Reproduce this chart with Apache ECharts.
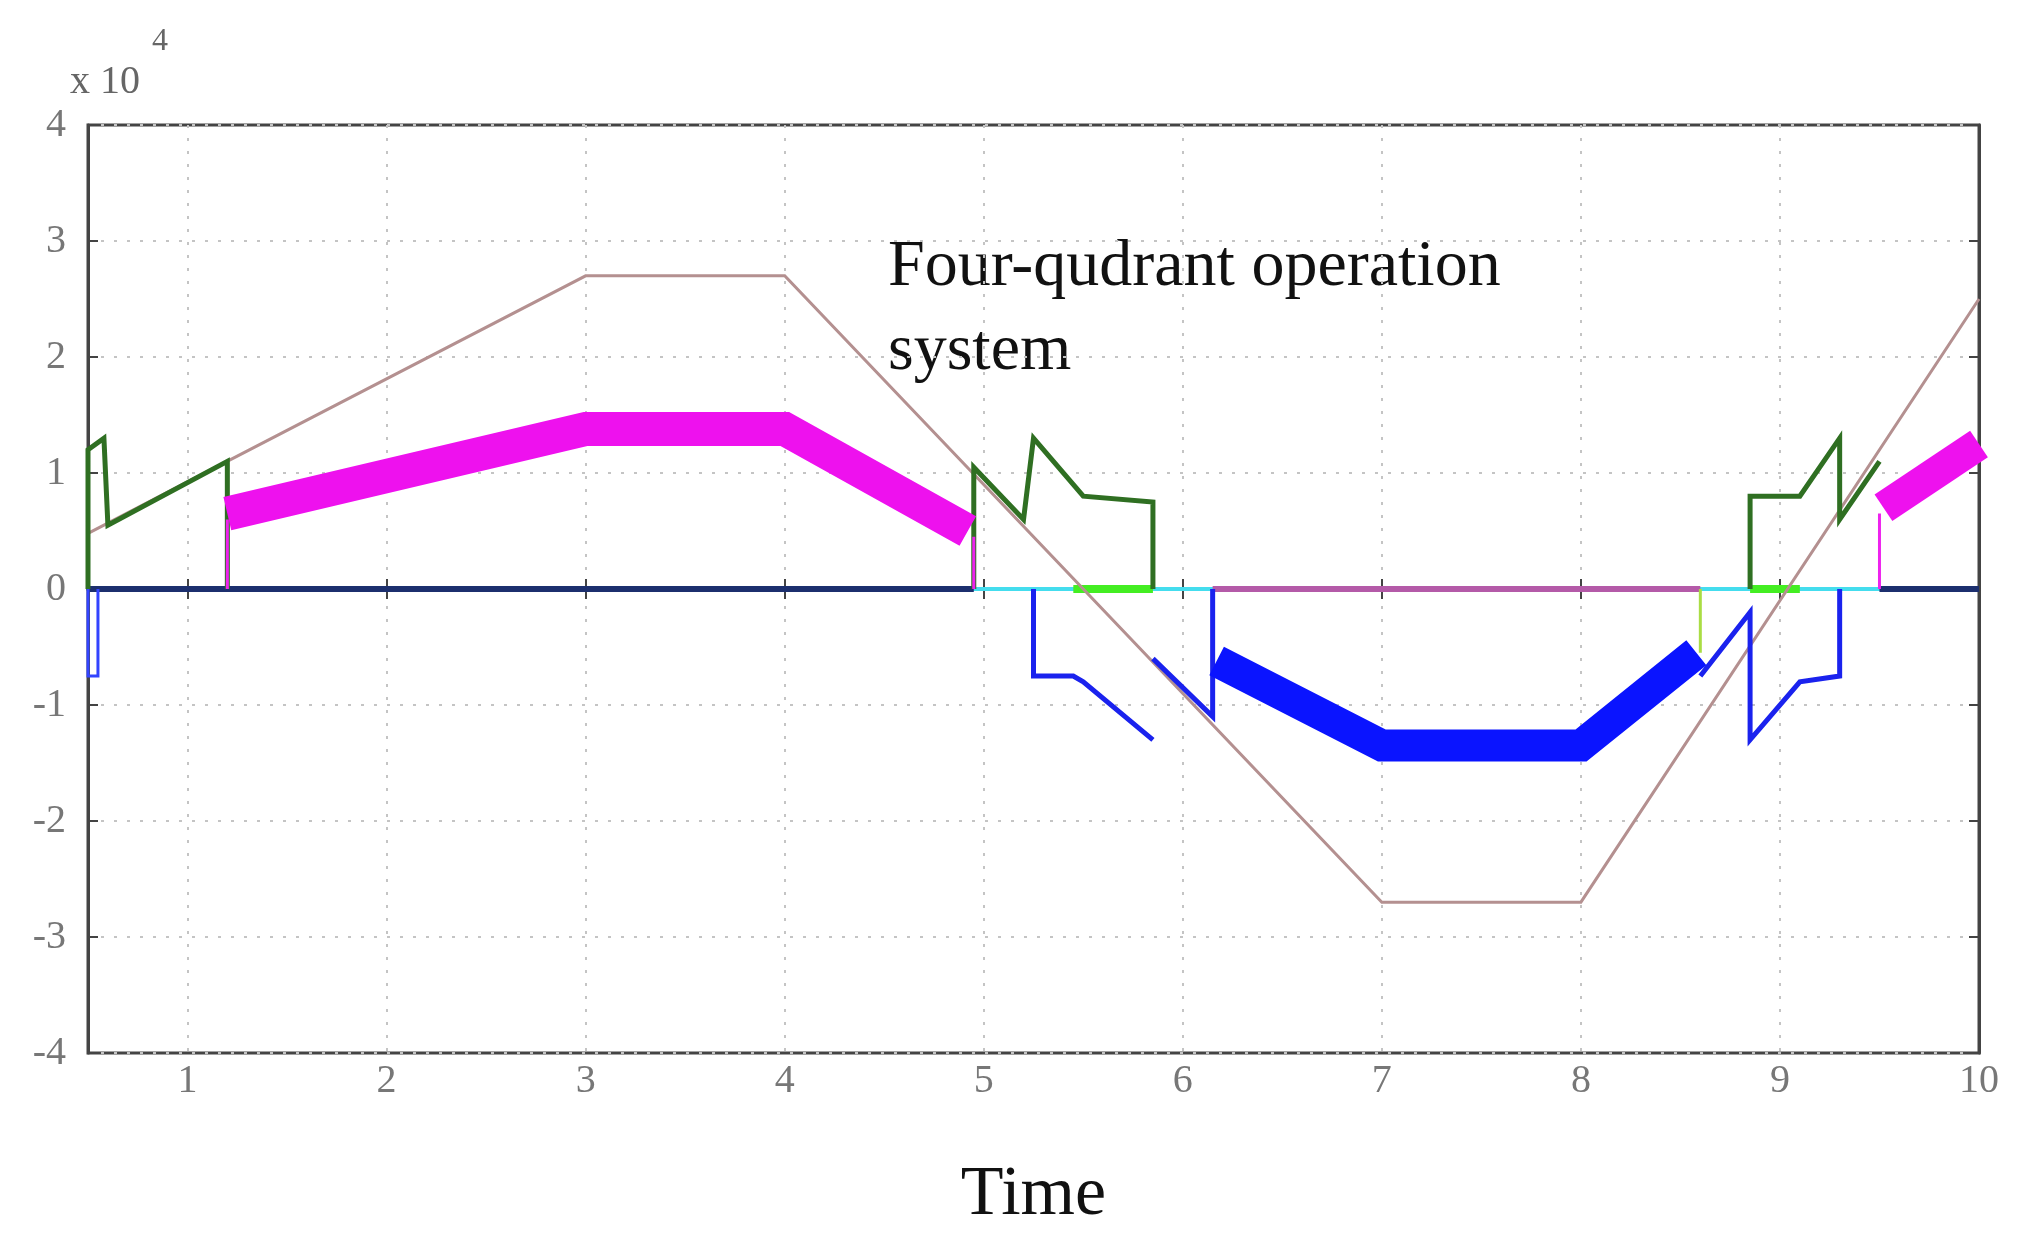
<!DOCTYPE html>
<html><head><meta charset="utf-8">
<script src="https://cdn.jsdelivr.net/npm/echarts@6/dist/echarts.min.js"></script>
<style>html,body{margin:0;background:#fff}#c{width:2019px;height:1244px}</style>
</head><body><div id="c"></div>
<script>
const xTicks=[1,2,3,4,5,6,7,8,9,10];
const yTicks=[-4,-3,-2,-1,0,1,2,3,4];
const speed=[[0.5,0.48],[3,2.7],[4,2.7],[7,-2.7],[8,-2.7],[10,2.5]];
const cyanZero=[[0.5,0],[10,0]];
const navyZero1=[[0.5,0],[4.95,0]];
const navyZero2=[[9.5,0],[10,0]];
const purpleZero=[[6.15,0],[8.6,0]];
const greenZero1=[[5.45,0],[5.85,0]];
const greenZero2=[[8.85,0],[9.1,0]];
const green1=[[0.5,0],[0.5,1.2],[0.58,1.3],[0.6,0.55],[1.2,1.1],[1.2,0]];
const green2=[[4.95,0],[4.95,1.05],[5.2,0.6],[5.25,1.3],[5.5,0.8],[5.85,0.75],[5.85,0]];
const green3=[[8.85,0],[8.85,0.8],[9.1,0.8],[9.3,1.3],[9.3,0.6],[9.5,1.1]];
const green4=[[8.6,0],[8.6,-0.55]];
const magEdge1=[[1.2,0],[1.2,0.6]];
const magBand1=[[1.2,0.65],[3,1.38],[4,1.38],[4.92,0.5]];
const magEdge2=[[4.95,0.45],[4.95,0]];
const magEdge3=[[9.5,0],[9.5,0.65]];
const magBand2=[[9.52,0.7],[10,1.25]];
const blue1=[[0.5,0],[0.5,-0.75],[0.55,-0.75],[0.55,0]];
const blue2=[[5.25,0],[5.25,-0.75],[5.45,-0.75],[5.5,-0.8],[5.85,-1.3]];
const blue3=[[5.85,-0.6],[6.15,-1.1],[6.15,0]];
const blue4=[[8.6,-0.75],[8.85,-0.2],[8.85,-1.3],[9.1,-0.8],[9.3,-0.75],[9.3,0]];
const blueBand=[[6.17,-0.62],[7,-1.35],[8,-1.35],[8.58,-0.55]];

function L(data,color,width,z){return {type:'line',data,symbol:'none',lineStyle:{color,width,join:'miter',cap:'butt'},z:z||2,animation:false,silent:true};}
const serif='Liberation Serif';
const chart=echarts.init(document.getElementById('c'));
chart.setOption({
 backgroundColor:'#fff',
 grid:{left:88,right:40,top:125,bottom:191,show:true,borderColor:'#444',borderWidth:3},
 xAxis:[{type:'value',min:0.5,max:10,
   axisLine:{lineStyle:{color:'#444',width:3}},
   axisLabel:{color:'#777',fontFamily:serif,fontSize:40,margin:8,customValues:xTicks},
   axisTick:{inside:true,length:10,customValues:xTicks,lineStyle:{color:'#444',width:2}},
   splitLine:{show:true,lineStyle:{color:'#c4c4c4',type:[3,10],width:2}},
   name:'Time',nameLocation:'middle',nameGap:108,nameTextStyle:{fontFamily:serif,fontSize:70,color:'#111'}},
  {type:'value',position:'top',min:0.5,max:10,axisLabel:{show:false},splitLine:{show:false},
   axisTick:{inside:true,length:10,customValues:xTicks,lineStyle:{color:'#444',width:2}},axisLine:{lineStyle:{color:'#444',width:3}}}],
 yAxis:[{type:'value',min:-4,max:4,interval:1,
   axisLine:{lineStyle:{color:'#444',width:3}},axisTick:{inside:true,length:10,lineStyle:{color:'#444',width:2}},
   axisLabel:{color:'#777',fontFamily:serif,fontSize:40,margin:22},
   splitLine:{show:true,lineStyle:{color:'#c4c4c4',type:[3,10],width:2}}},
  {type:'value',position:'right',min:-4,max:4,interval:1,axisLabel:{show:false},splitLine:{show:false},
   axisTick:{inside:true,length:10,lineStyle:{color:'#444',width:2}},axisLine:{lineStyle:{color:'#444',width:3}}}],
 graphic:[
  {type:'text',left:70,top:62,style:{text:'x 10',fontFamily:serif,fontSize:40,fill:'#666'}},
  {type:'text',left:152,top:26,style:{text:'4',fontFamily:serif,fontSize:32,fill:'#666'}},
  {type:'text',left:888,top:226,style:{text:'Four-qudrant operation\nsystem',fontFamily:serif,fontSize:66,lineHeight:84,fill:'#111'}}
 ],
 series:[
  L(cyanZero,'#44ddee',4,1),
  L(purpleZero,'#b45aa8',6),
  L(navyZero1,'#1c2f6e',6),L(navyZero2,'#1c2f6e',6),
  L(greenZero1,'#44ee22',8),L(greenZero2,'#44ee22',8),
  L(speed,'#b49090',3,3),
  L(green1,'#2f6f22',5,4),L(green2,'#2f6f22',5,4),L(green3,'#2f6f22',5,4),L(green4,'#aadd44',3,4),
  L(magEdge1,'#ee22ee',3,4),L(magEdge2,'#ee22ee',3,4),L(magEdge3,'#ee22ee',3,4),
  L(magBand1,'#ee11ee',34,4),L(magBand2,'#ee11ee',32,4),
  L(blue1,'#3344ff',3,4),L(blue2,'#1a22ee',5,4),L(blue3,'#1a22ee',5,4),L(blue4,'#1a22ee',5,4),
  L(blueBand,'#0a14ff',32,4)
 ]
});
</script></body></html>
